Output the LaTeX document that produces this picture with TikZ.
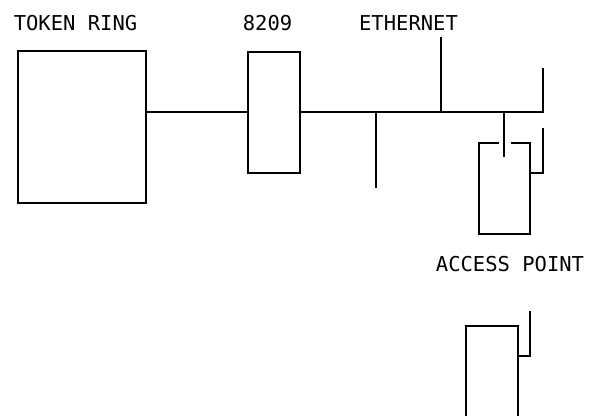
\documentclass[tikz,border=0pt]{standalone}
\usepackage{fontspec}
\setmonofont{DejaVu Sans Mono}
\usepackage{tikz}
\usetikzlibrary{positioning}

\begin{document}
\begin{tikzpicture}[
    x=1pt,y=-1pt,
    line width=1.4pt,
    unit/.style={draw,rectangle,inner sep=0pt},
    tag/.style={font=\ttfamily\fontsize{20.5}{24}\selectfont,inner sep=0pt,anchor=base}
  ]
    \useasboundingbox (0,0) rectangle (589,415);
    % stations and bridge
    \node[unit,minimum width=128pt,minimum height=152pt] (ring) at (82,127) {};
    \node[unit,minimum width=52pt,minimum height=121pt] (bridge) at (274,112.5) {};
    \node[tag] (ringlbl) at (75.5,30) {TOKEN RING};
    \node[tag] (bridgelbl) at (267.5,30) {8209};
    \node[tag] (ethlbl) at (408.5,30) {ETHERNET};
    \node[tag] (aplbl) at (510,271) {ACCESS POINT};
    % ethernet segment
    \coordinate (busend) at (543,112);
    \coordinate (busup) at (543,68);
    \coordinate (ethtop) at (441,37);
    \coordinate (drop) at (376,188);
    \coordinate (apstub) at (504,157);
    \draw (ring.east |- busend) -- (bridge.west |- busend);
    \draw (bridge.east |- busend) -- (busend) -- (busup);
    \draw (ethtop) -- (ethtop |- busend);
    \draw (drop) -- (drop |- busend);
    \draw (apstub) -- (apstub |- busend);
    % access point
    \coordinate (apgapl) at (499,143);
    \coordinate (apgapr) at (511,143);
    \coordinate (apbot) at (479,234);
    \coordinate (apright) at (530,143);
    \coordinate (apant) at (543,128);
    \draw (apgapl) -| (apbot) -| (apright) -- (apgapr);
    \draw (apant) |- (530,173);
    % wireless station
    \coordinate (stleft) at (466,416);
    \coordinate (stright) at (518,416);
    \coordinate (stant) at (530,311);
    \draw (stleft) |- (518,326) -- (stright);
    \draw (stant) |- (518,356);
\end{tikzpicture}
\end{document}
